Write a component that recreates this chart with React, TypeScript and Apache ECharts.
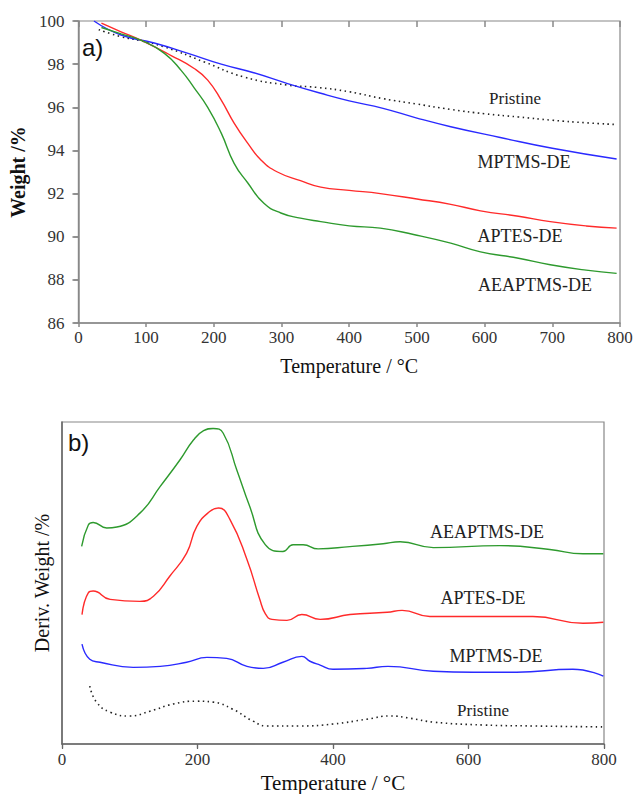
import React, { useEffect, useRef } from "react";
import * as echarts from "echarts";

// ---- Panel a) TGA weight curves ----
const tgaPristineT = [30, 63, 90, 127, 186, 245, 309, 353, 400, 450, 500, 550, 600, 650, 700, 750, 795];
const tgaPristineW = [99.6, 99.27, 99.1, 98.8, 98.1, 97.4, 97.03, 96.92, 96.72, 96.4, 96.15, 95.9, 95.7, 95.55, 95.4, 95.28, 95.2];

const tgaMptmsT = [23, 63, 112, 162, 211, 259, 309, 358, 400, 450, 500, 550, 623, 700, 795];
const tgaMptmsW = [100, 99.35, 98.98, 98.5, 98.0, 97.6, 97.1, 96.65, 96.3, 95.95, 95.5, 95.1, 94.6, 94.1, 93.6];

const tgaAptesT = [34, 63, 93, 137, 171, 191, 211, 230, 250, 270, 294, 328, 358, 400, 446, 500, 550, 594, 650, 697, 750, 795];
const tgaAptesW = [99.9, 99.5, 99.1, 98.4, 97.8, 97.26, 96.33, 95.27, 94.34, 93.55, 93.0, 92.6, 92.3, 92.15, 92.0, 91.75, 91.5, 91.2, 90.95, 90.7, 90.5, 90.4];

const tgaAeaptmsT = [34, 63, 93, 127, 152, 171, 191, 211, 230, 250, 274, 299, 328, 358, 400, 446, 495, 550, 594, 650, 697, 750, 795];
const tgaAeaptmsW = [99.7, 99.4, 99.1, 98.5, 97.7, 96.9, 96.0, 94.8, 93.4, 92.5, 91.55, 91.1, 90.86, 90.7, 90.5, 90.4, 90.1, 89.7, 89.3, 89.0, 88.7, 88.45, 88.3];

// ---- Panel b) derivative curves (arbitrary units, stacked) ----
const dtgAeaptmsT = [29, 39, 46, 66, 81, 115, 145, 174, 194, 209, 223, 238, 258, 277, 300, 326, 341, 356, 378, 425, 474, 499, 548, 646, 720, 769, 799];
const dtgAeaptmsV = [61.4, 68.1, 68.8, 67.1, 67.4, 71.7, 80.0, 88.2, 94.4, 97.3, 98.0, 96.5, 85.1, 73.8, 61.9, 59.8, 61.9, 61.9, 60.6, 61.3, 62.2, 62.8, 61.0, 61.6, 60.4, 59.1, 59.1];

const dtgAptesT = [29.5, 39, 46, 71, 115, 135, 159, 184, 199, 218, 231, 248, 273, 292, 300, 310, 332, 354, 381, 425, 480, 502, 543, 622, 695, 769, 799];
const dtgAptesV = [40.2, 47.0, 47.5, 44.9, 44.3, 45.9, 52.1, 59.3, 67.6, 72.2, 73.3, 69.7, 57.3, 44.9, 40.5, 38.7, 38.4, 40.2, 38.7, 40.2, 40.9, 41.5, 39.6, 39.6, 39.6, 37.5, 37.8];

const dtgMptmsT = [29.5, 41, 56, 105, 145, 184, 214, 243, 273, 297, 326, 354, 366, 381, 400, 450, 481, 548, 607, 671, 754, 799];
const dtgMptmsV = [31.0, 26.3, 25.4, 23.8, 24.1, 25.4, 26.9, 26.6, 24.1, 23.5, 25.4, 27.2, 25.7, 24.5, 23.2, 23.5, 24.1, 22.6, 22.3, 22.3, 23.2, 21.1];

const dtgPristineT = [41, 51, 71, 100, 130, 164, 199, 223, 252, 282, 302, 351, 400, 450, 484, 514, 548, 622, 695, 799];
const dtgPristineV = [18.0, 13.0, 9.9, 8.7, 10.2, 12.4, 13.3, 13.0, 10.8, 7.1, 5.6, 5.6, 6.2, 7.7, 8.7, 8.0, 6.8, 5.9, 5.6, 5.3];

const seriesNames = ["Pristine", "MPTMS-DE", "APTES-DE", "AEAPTMS-DE"];
const seriesColors = ["#222222", "#2a2aff", "#ff2a2a", "#2e9a2e"];

const pairs = (xs: number[], ys: number[]) => xs.map((x, i) => [x, ys[i]]);

const SERIF = "Liberation Serif";
const SANS = "Liberation Sans";
const AXIS_GRAY = "#888888";

export default function App() {
  const ref = useRef<HTMLDivElement>(null);

  useEffect(() => {
    if (!ref.current) return;
    const chart = echarts.init(ref.current, undefined, { renderer: "svg" });

    const lineSeries = (name: string, idx: number, data: number[][], axisIdx: number) => ({
      name,
      type: "line",
      xAxisIndex: axisIdx,
      yAxisIndex: axisIdx,
      data,
      showSymbol: false,
      symbol: "none",
      smooth: 0.5,
      lineStyle: {
        color: seriesColors[idx],
        width: idx === 0 ? 1.6 : 1.4,
        type: idx === 0 ? [1.5, 3.5] : "solid",
      },
      z: 3,
    });

    const labelText = (text: string, x: number, y: number, size = 17) => ({
      type: "text",
      x,
      y,
      style: {
        text,
        fontFamily: SERIF,
        fontSize: size,
        fill: "#222",
        textAlign: "center",
        textVerticalAlign: "middle",
      },
      z: 10,
    });

    const tickLabelStyle = { color: "#333", fontSize: 17, fontFamily: SERIF };
    const nameStyle = { color: "#111", fontSize: 20, fontFamily: SERIF };

    chart.setOption({
      animation: false,
      backgroundColor: "#fff",
      textStyle: { fontFamily: SERIF },
      grid: [
        { left: 77, top: 21, width: 543, height: 302, show: true, borderColor: AXIS_GRAY, borderWidth: 1.2, backgroundColor: "transparent" },
        { left: 62, top: 422, width: 542, height: 323, show: true, borderColor: AXIS_GRAY, borderWidth: 1.2, backgroundColor: "transparent" },
      ],
      xAxis: [
        {
          gridIndex: 0, type: "value", min: 0, max: 800, interval: 100,
          axisLine: { show: true, onZero: false, lineStyle: { color: AXIS_GRAY, width: 1.5 } },
          axisTick: { show: true, length: 4, lineStyle: { color: AXIS_GRAY, width: 1.5 } },
          axisLabel: { ...tickLabelStyle, margin: 6 },
          splitLine: { show: false },
          name: "Temperature / °C", nameLocation: "middle", nameGap: 33, nameTextStyle: nameStyle,
        },
        {
          gridIndex: 1, type: "value", min: 0, max: 800, interval: 200,
          axisLine: { show: true, onZero: false, lineStyle: { color: "#666", width: 1.5 } },
          axisTick: { show: true, length: 4, lineStyle: { color: "#666", width: 1.2 } },
          axisLabel: { ...tickLabelStyle, margin: 7 },
          splitLine: { show: false },
          name: "Temperature / °C", nameLocation: "middle", nameGap: 28,
          nameTextStyle: { ...nameStyle, fontSize: 21 },
        },
        {
          gridIndex: 0, type: "value", min: 0, max: 800, interval: 100,
          axisLine: { show: false },
          axisTick: { show: true, inside: true, length: 6, lineStyle: { color: AXIS_GRAY, width: 1.5 } },
          axisLabel: { show: false }, splitLine: { show: false },
        },
        {
          gridIndex: 1, type: "value", min: 0, max: 800, interval: 200,
          axisLine: { show: false },
          axisTick: { show: true, inside: true, length: 5, lineStyle: { color: "#666", width: 1.2 } },
          axisLabel: { show: false }, splitLine: { show: false },
        },
      ],
      yAxis: [
        {
          gridIndex: 0, type: "value", min: 86, max: 100, interval: 2,
          axisLine: { show: true, onZero: false, lineStyle: { color: AXIS_GRAY, width: 1.5 } },
          axisTick: { show: true, length: 6, lineStyle: { color: AXIS_GRAY, width: 1.5 } },
          axisLabel: { ...tickLabelStyle, margin: 14 },
          splitLine: { show: false },
          name: "Weight /%", nameLocation: "middle", nameGap: 42, nameRotate: 90,
          nameTextStyle: { ...nameStyle, fontWeight: "bold" },
        },
        {
          gridIndex: 1, type: "value", min: 0, max: 100,
          axisLine: { show: true, onZero: false, lineStyle: { color: "#666", width: 1.5 } },
          axisTick: { show: false },
          axisLabel: { show: false },
          splitLine: { show: false },
          name: "Deriv. Weight /%", nameLocation: "middle", nameGap: 10, nameRotate: 90, nameTextStyle: nameStyle,
        },
        {
          gridIndex: 0, type: "value", min: 86, max: 100, interval: 2,
          axisLine: { show: false },
          axisTick: { show: true, inside: true, length: 5, lineStyle: { color: AXIS_GRAY, width: 1.5 } },
          axisLabel: { show: false }, splitLine: { show: false },
        },
        {
          gridIndex: 1, type: "value", min: 0, max: 100,
          axisLine: { show: false }, axisTick: { show: false }, axisLabel: { show: false }, splitLine: { show: false },
        },
      ],
      series: [
        lineSeries(seriesNames[0], 0, pairs(tgaPristineT, tgaPristineW), 0),
        lineSeries(seriesNames[1], 1, pairs(tgaMptmsT, tgaMptmsW), 0),
        lineSeries(seriesNames[2], 2, pairs(tgaAptesT, tgaAptesW), 0),
        lineSeries(seriesNames[3], 3, pairs(tgaAeaptmsT, tgaAeaptmsW), 0),
        lineSeries(seriesNames[0], 0, pairs(dtgPristineT, dtgPristineV), 1),
        lineSeries(seriesNames[1], 1, pairs(dtgMptmsT, dtgMptmsV), 1),
        lineSeries(seriesNames[2], 2, pairs(dtgAptesT, dtgAptesV), 1),
        lineSeries(seriesNames[3], 3, pairs(dtgAeaptmsT, dtgAeaptmsV), 1),
      ],
      graphic: [
        { type: "text", x: 82, y: 47, style: { text: "a)", fontFamily: SANS, fontSize: 24, fill: "#111", textVerticalAlign: "middle" }, z: 10 },
        { type: "text", x: 68, y: 442, style: { text: "b)", fontFamily: SANS, fontSize: 24, fill: "#111", textVerticalAlign: "middle" }, z: 10 },
        labelText("Pristine", 515, 98),
        labelText("MPTMS-DE", 524, 162, 18),
        labelText("APTES-DE", 520, 236, 18),
        labelText("AEAPTMS-DE", 535, 285, 18),
        labelText("AEAPTMS-DE", 487, 532, 18),
        labelText("APTES-DE", 483, 598, 18),
        labelText("MPTMS-DE", 496, 656, 18),
        labelText("Pristine", 483, 710),
      ],
    });

    return () => chart.dispose();
  }, []);

  return (
    <div
      ref={ref}
      style={{ position: "fixed", left: 0, top: 0, width: 636, height: 794, background: "#fff" }}
    />
  );
}
